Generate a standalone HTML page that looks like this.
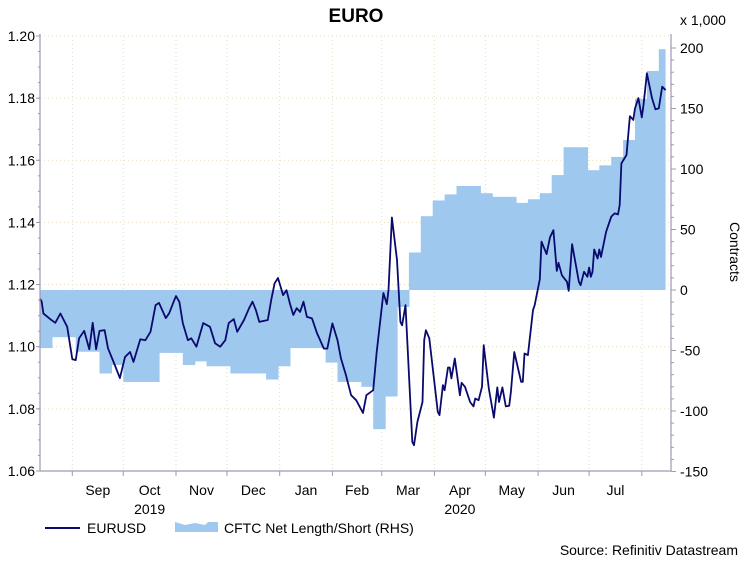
<!DOCTYPE html>
<html><head><meta charset="utf-8">
<style>
body{margin:0;background:#fff;width:748px;height:562px;overflow:hidden;font-family:"Liberation Sans",Arial,sans-serif;}
svg text{font-family:"Liberation Sans",Arial,sans-serif;}
</style></head>
<body>
<svg id="chart" width="748" height="562" viewBox="0 0 748 562" xmlns="http://www.w3.org/2000/svg">
<text x="356" y="22" text-anchor="middle" font-size="19" font-weight="bold" fill="#000">EURO</text>
<text x="680" y="25" font-size="14" fill="#000">x 1,000</text>
<text x="0" y="0" font-size="14" fill="#000" transform="translate(730,222) rotate(90)">Contracts</text>
<g id="grid"></g>
<g id="cftc"></g>
<g id="eur"></g>
<g id="axes"></g>
<g>
<line x1="45" y1="528" x2="80" y2="528" stroke="#0a0a6e" stroke-width="2"/>
<text x="87" y="533" font-size="14" fill="#000">EURUSD</text>
<path d="M175,532 L175,522 L185,525 L195,523 L205,525 L208,522 L218,522 L218,532 Z" fill="#9fc8ef"/>
<text x="224" y="533" font-size="14" fill="#000">CFTC Net Length/Short (RHS)</text>
</g>
<text x="738" y="555" text-anchor="end" font-size="14" fill="#000">Source: Refinitiv Datastream</text>
</svg>
<script>
// data
const leftTicks=[1.06,1.08,1.10,1.12,1.14,1.16,1.18,1.20];
const rightTicks=[-150,-100,-50,0,50,100,150,200];
const monthLabels=["Sep","Oct","Nov","Dec","Jan","Feb","Mar","Apr","May","Jun","Jul"];
const monthStartDays=[19,49,80,110,141,172,201,232,262,293,323,354];
const yearLabels=["2019","2020"];
const cftcValues=[-48,-39,-39,-51,-51,-69,-62,-76,-76,-76,-52,-52,-62,-59,-63,-63,-69,-69,-69,-74,-63,-48,-48,-48,-60,-76,-76,-80,-115,-88,-14,31,61,74,79,86,86,80,77,77,72,75,80,95,118,118,99,103,110,124,158,181,199];
const eurDays=[0,1,2,6,9,12,16,19,21,23,26,29,31,33,35,38,40,44,47,50,53,55,59,62,65,68,70,74,76,79,80,82,84,87,89,92,96,100,103,106,109,111,114,116,120,123,125,127,129,134,136,138,140,143,145,147,149,151,153,155,157,160,163,167,169,172,175,177,180,183,186,190,192,196,198,202,204,205,207,210,212,213,215,219,220,222,225,226,227,229,234,235,237,238,240,241,242,244,247,248,250,253,255,256,258,260,261,264,267,269,270,272,274,276,277,279,283,284,285,287,290,291,294,295,298,300,302,304,305,307,310,311,313,317,318,320,322,323,324,325,326,328,329,330,333,336,338,340,341,342,345,347,349,350,352,354,355,357,358,360,362,364,366,368];
const eurValues=[1.1155,1.1145,1.1107,1.1089,1.1077,1.1107,1.1064,1.096,1.0957,1.1027,1.1051,1.0992,1.1077,1.0992,1.1051,1.1053,1.0995,1.0941,1.0899,1.0967,1.0983,1.0951,1.1024,1.1021,1.1048,1.1134,1.1141,1.1092,1.1108,1.115,1.1163,1.1144,1.1076,1.1021,1.1027,1.1,1.1076,1.1064,1.1011,1.1,1.1021,1.1076,1.1089,1.1048,1.1086,1.1124,1.1145,1.1118,1.108,1.1086,1.115,1.1204,1.1221,1.1166,1.1182,1.1139,1.1102,1.1124,1.1112,1.1145,1.1096,1.1091,1.1043,1.0994,1.0994,1.1075,1.1021,1.0963,1.0908,1.0844,1.0828,1.0787,1.0844,1.086,1.098,1.1173,1.1137,1.1182,1.1416,1.1279,1.108,1.1069,1.1134,1.0694,1.0683,1.0758,1.0822,1.1021,1.1053,1.1027,1.079,1.078,1.0876,1.086,1.0933,1.0933,1.0898,1.0962,1.0844,1.0884,1.0871,1.0822,1.0808,1.0833,1.0828,1.0871,1.1005,1.0866,1.0772,1.0869,1.0822,1.0869,1.0808,1.081,1.0855,1.0983,1.0887,1.0887,1.0978,1.0973,1.1118,1.1134,1.1217,1.1338,1.1298,1.1352,1.1375,1.1244,1.127,1.123,1.1209,1.118,1.133,1.1209,1.1198,1.1241,1.1225,1.1255,1.1225,1.1241,1.1313,1.1284,1.1313,1.1289,1.137,1.1418,1.1429,1.1426,1.1456,1.159,1.1617,1.1742,1.173,1.1767,1.18,1.1738,1.1778,1.188,1.1853,1.18,1.1764,1.1767,1.1837,1.1826];

const NS="http://www.w3.org/2000/svg";
const X0=40,X1=671,XEND=665,YT=36,YB=471;
function xDay(d){return X0+d*1.70;}
function yL(v){return YB-(v-1.06)/0.14*(YB-YT);}
function yR(v){return 290-v*1.21;}
function mk(tag,attrs,parent){const e=document.createElementNS(NS,tag);for(const k in attrs)e.setAttribute(k,attrs[k]);parent.appendChild(e);return e;}
const grid=document.getElementById('grid'),axes=document.getElementById('axes');
// gridlines
leftTicks.forEach(t=>{if(t===1.06)return;const y=yL(t);
 const l=mk('line',{x1:X0,x2:X1,y1:y,y2:y,stroke:'#eadcb8','stroke-dasharray':'1,3','stroke-width':1},grid);
 
 });
monthStartDays.forEach(d=>{const x=xDay(d);
 const l=mk('line',{x1:x,x2:x,y1:YT,y2:YB,stroke:'#d8e0c8','stroke-dasharray':'1,3','stroke-width':1},grid);
 
 });
// cftc step area
const cg=document.getElementById('cftc');
cftcValues.forEach((v,i)=>{const xa=xDay(i*7),xb=Math.min(xDay((i+1)*7),XEND);if(xb<=xa)return;
 const y0=yR(0),y1=yR(v);
 const r=mk('rect',{x:xa,y:Math.min(y0,y1),width:xb-xa+0.6,height:Math.abs(y1-y0),fill:'#9fc8ef'},cg);
 
 });
// eurusd line
const pts=eurValues.map((v,i)=>xDay(eurDays[i]).toFixed(1)+','+yL(v).toFixed(1)).join(' ');
const pl=mk('polyline',{points:pts,fill:'none',stroke:'#0a0a6e','stroke-width':1.8,'stroke-linejoin':'round'},document.getElementById('eur'));


// axes lines
[[X0,YT-2,X0,YB],[X0,YB,X1,YB],[X1,YT-2,X1,YB]].forEach(a=>{const l=mk('line',{x1:a[0],y1:a[1],x2:a[2],y2:a[3],stroke:'#a098b0','stroke-width':1.2},axes);
 
 });
// left ticks
leftTicks.forEach(t=>{const y=yL(t);
 mk('line',{x1:X0-4,x2:X0,y1:y,y2:y,stroke:'#a098b0'},axes);
 const tx=mk('text',{x:X0-5,y:y+5,'text-anchor':'end','font-size':14,fill:'#000'},axes);tx.textContent=t.toFixed(2);
 
 });
for(let v=1.06;v<1.2;v+=0.005){const y=yL(v);mk('line',{x1:X0-2,x2:X0,y1:y,y2:y,stroke:'#a098b0'},axes);}
// right ticks
rightTicks.forEach(t=>{const y=yR(t);
 mk('line',{x1:X1,x2:X1+5,y1:y,y2:y,stroke:'#a098b0'},axes);
 const tx=mk('text',{x:X1+9,y:y+5,'font-size':14,fill:'#000'},axes);tx.textContent=t;
 
 });
for(let v=-150;v<=200;v+=10){const y=yR(v);mk('line',{x1:X1,x2:X1+3,y1:y,y2:y,stroke:'#a098b0'},axes);}
// bottom ticks + month labels
monthStartDays.forEach(d=>{const x=xDay(d);mk('line',{x1:x,x2:x,y1:YB,y2:YB+5,stroke:'#a098b0'},axes);});
monthLabels.forEach((m,i)=>{const x=(xDay(monthStartDays[i])+xDay(monthStartDays[i+1]))/2;
 const tx=mk('text',{x:x,y:495,'text-anchor':'middle','font-size':14,fill:'#000'},axes);tx.textContent=m;
 
 });
const yrX=[(xDay(monthStartDays[1])+xDay(monthStartDays[2]))/2,(xDay(monthStartDays[7])+xDay(monthStartDays[8]))/2];
yearLabels.forEach((y,i)=>{const tx=mk('text',{x:yrX[i],y:514,'text-anchor':'middle','font-size':14,fill:'#000'},axes);tx.textContent=y;
 
 });
</script>
</body></html>
